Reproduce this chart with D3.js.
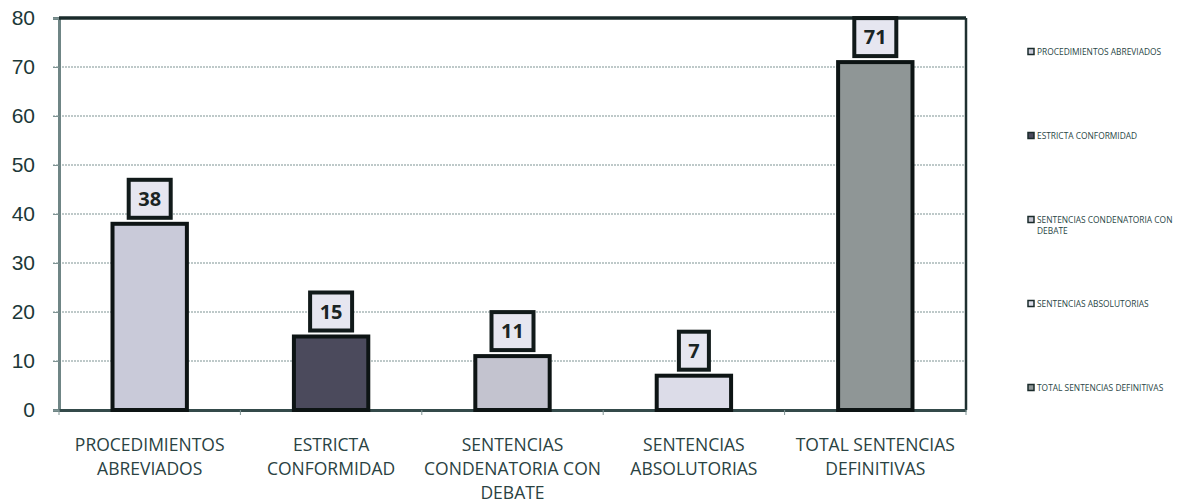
<!DOCTYPE html>
<html>
<head>
<meta charset="utf-8">
<script src="https://d3js.org/d3.v7.min.js"></script>
<style>
  body { margin: 0; background: #fff; }
  svg { font-family: "Open Sans", "Liberation Sans", sans-serif; }
</style>
</head>
<body>
<div id="chart"></div>
<script>
// values
var categories = ["PROCEDIMIENTOS ABREVIADOS", "ESTRICTA CONFORMIDAD", "SENTENCIAS CONDENATORIA CON DEBATE", "SENTENCIAS ABSOLUTORIAS", "TOTAL SENTENCIAS DEFINITIVAS"];
var axisLabels = [["PROCEDIMIENTOS", "ABREVIADOS"], ["ESTRICTA", "CONFORMIDAD"], ["SENTENCIAS", "CONDENATORIA CON", "DEBATE"], ["SENTENCIAS", "ABSOLUTORIAS"], ["TOTAL SENTENCIAS", "DEFINITIVAS"]];
var legendLabels = [["PROCEDIMIENTOS ABREVIADOS"], ["ESTRICTA CONFORMIDAD"], ["SENTENCIAS CONDENATORIA CON", "DEBATE"], ["SENTENCIAS ABSOLUTORIAS"], ["TOTAL SENTENCIAS DEFINITIVAS"]];
var values = [38, 15, 11, 7, 71];
var yTicks = [0, 10, 20, 30, 40, 50, 60, 70, 80];
var colors = ["#c9cad9", "#4b4a5c", "#c3c3cf", "#dcdce8", "#8f9696"];

var W = 1181, H = 503;
var margin = {left: 59, right: 215, top: 18, bottom: 93};

var svg = d3.select("#chart").append("svg")
    .attr("width", W).attr("height", H);

var x = d3.scaleBand().domain(categories)
    .range([margin.left, W - margin.right])
    .paddingInner(0.59).paddingOuter(0.295);
var y = d3.scaleLinear().domain([0, 80]).range([H - margin.bottom, margin.top]);

// gridlines
svg.append("g").selectAll("line").data(yTicks.slice(1, -1)).join("line")
    .attr("x1", margin.left - 6).attr("x2", W - margin.right)
    .attr("y1", d => y(d)).attr("y2", d => y(d))
    .attr("stroke", "#7f9393").attr("stroke-width", 1.2)
    .attr("stroke-dasharray", "2,1");

// y axis
var yAxis = svg.append("g")
    .attr("transform", "translate(" + margin.left + ",0)")
    .call(d3.axisLeft(y).tickValues(yTicks).tickSize(6).tickPadding(18));
yAxis.select(".domain").attr("stroke", "#6f8585").attr("stroke-width", 3);
yAxis.selectAll(".tick line").attr("stroke", "#7f9393");
yAxis.selectAll("text").attr("font-size", 21).attr("fill", "#1c3838");

// frame: top and right
svg.append("line").attr("x1", margin.left).attr("x2", W - margin.right)
    .attr("y1", y(80)).attr("y2", y(80))
    .attr("stroke", "#1a2b2b").attr("stroke-width", 3.5);
svg.append("line").attr("x1", W - margin.right).attr("x2", W - margin.right)
    .attr("y1", y(80)).attr("y2", y(0))
    .attr("stroke", "#1f3030").attr("stroke-width", 2.5);

// x axis
var xAxis = svg.append("g")
    .attr("transform", "translate(0," + y(0) + ")")
    .call(d3.axisBottom(x).tickSize(0).tickFormat(""));
xAxis.select(".domain").attr("stroke", "#344a4a").attr("stroke-width", 3);
var step = x.step();
svg.append("g").selectAll("line").data(d3.range(categories.length + 1)).join("line")
    .attr("x1", i => margin.left + i * step).attr("x2", i => margin.left + i * step)
    .attr("y1", y(0)).attr("y2", y(0) + 5)
    .attr("stroke", "#7f9393").attr("stroke-width", 1);

svg.append("g").selectAll("text").data(categories).join("text")
    .attr("x", d => x(d) + x.bandwidth() / 2)
    .attr("y", 451)
    .attr("text-anchor", "middle")
    .attr("font-size", 17.5).attr("fill", "#2a4242")
    .selectAll("tspan").data((d, i) => axisLabels[i]).join("tspan")
    .attr("x", function() { return this.parentNode.getAttribute("x"); })
    .attr("dy", (d, i) => i === 0 ? 0 : 24)
    .text(d => d);

// bars
svg.append("g").selectAll("rect").data(values).join("rect")
    .attr("x", (d, i) => x(categories[i]))
    .attr("y", d => y(d))
    .attr("width", x.bandwidth())
    .attr("height", d => y(0) - y(d))
    .attr("fill", (d, i) => colors[i])
    .attr("stroke", "#0d1414").attr("stroke-width", 4);

// data labels in boxes
var lab = svg.append("g").selectAll("g").data(values).join("g")
    .attr("transform", (d, i) => "translate(" + (x(categories[i]) + x.bandwidth() / 2) + "," + (y(d) - 25) + ")");
lab.append("rect")
    .attr("x", d => d >= 10 ? -21 : -15)
    .attr("width", d => d >= 10 ? 42 : 30)
    .attr("y", -19).attr("height", 38)
    .attr("fill", "#e6e6f0").attr("stroke", "#111a1a").attr("stroke-width", 4);
lab.append("text")
    .attr("text-anchor", "middle").attr("dy", "0.36em")
    .attr("font-size", 20).attr("font-weight", "bold").attr("fill", "#1a2424")
    .text(d => d);

// legend
var legendY = [52, 136, 220, 304, 388];
var leg = svg.append("g").selectAll("g").data(categories).join("g")
    .attr("transform", (d, i) => "translate(1028," + legendY[i] + ")");
leg.append("rect").attr("x", 0).attr("y", -3.5).attr("width", 6).attr("height", 6)
    .attr("fill", (d, i) => colors[i]).attr("stroke", "#1a2b2b").attr("stroke-width", 1.5);
leg.append("text")
    .attr("x", 9).attr("dy", "0.35em")
    .attr("font-size", 8.4).attr("fill", "#2a4646")
    .selectAll("tspan").data((d, i) => legendLabels[i]).join("tspan")
    .attr("x", 9).attr("dy", (d, i) => i === 0 ? "0.35em" : 11)
    .text(d => d);
</script>
</body>
</html>
